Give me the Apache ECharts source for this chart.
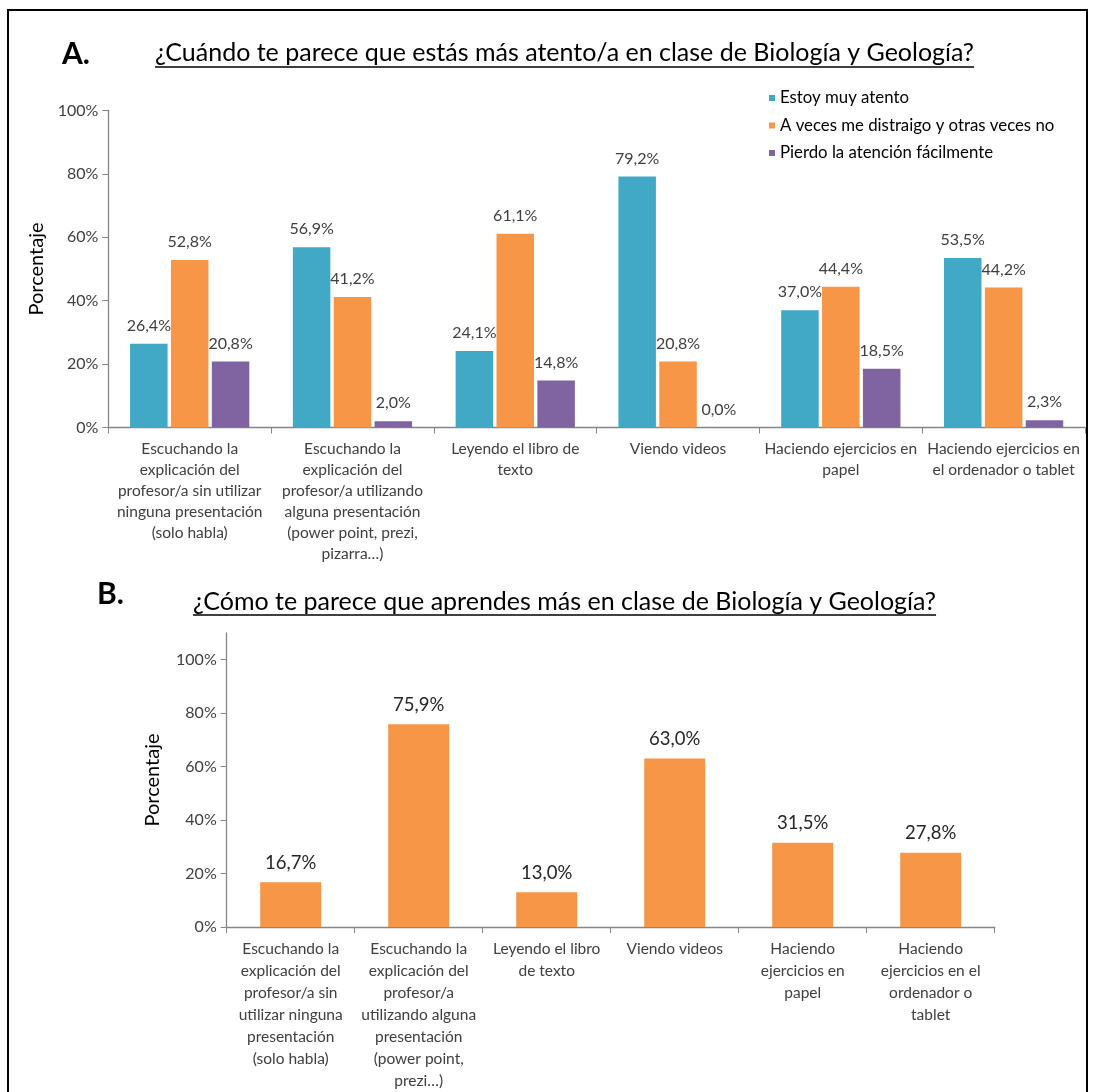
<!DOCTYPE html>
<html>
<head>
<meta charset="utf-8">
<script src="https://cdn.jsdelivr.net/npm/echarts@6/dist/echarts.min.js"></script>
<style>
html,body{margin:0;padding:0;background:#fff;}
#chart{width:1094px;height:1092px;}
</style>
</head>
<body>
<div id="chart"></div>
<script>
// ---------- data ----------
const titleA = '¿Cuándo te parece que estás más atento/a en clase de Biología y Geología?';
const titleB = '¿Cómo te parece que aprendes más en clase de Biología y Geología?';
const yAxisName = 'Porcentaje';
const categoriesA = [
  'Escuchando la\nexplicación del\nprofesor/a sin utilizar\nninguna presentación\n(solo habla)',
  'Escuchando la\nexplicación del\nprofesor/a utilizando\nalguna presentación\n(power point, prezi,\npizarra…)',
  'Leyendo el libro de\ntexto',
  'Viendo videos',
  'Haciendo ejercicios en\npapel',
  'Haciendo ejercicios en\nel ordenador o tablet'
];
const categoriesB = [
  'Escuchando la\nexplicación del\nprofesor/a sin\nutilizar ninguna\npresentación\n(solo habla)',
  'Escuchando la\nexplicación del\nprofesor/a\nutilizando alguna\npresentación\n(power point,\nprezi…)',
  'Leyendo el libro\nde texto',
  'Viendo videos',
  'Haciendo\nejercicios en\npapel',
  'Haciendo\nejercicios en el\nordenador o\ntablet'
];
const seriesNamesA = ['Estoy muy atento', 'A veces me distraigo y otras veces no', 'Pierdo la atención fácilmente'];
const muyAtento = [26.4, 56.9, 24.1, 79.2, 37.0, 53.5];
const aVeces = [52.8, 41.2, 61.1, 20.8, 44.4, 44.2];
const pierdo = [20.8, 2.0, 14.8, 0.0, 18.5, 2.3];
const aprendes = [16.7, 75.9, 13.0, 63.0, 31.5, 27.8];
const yTicks = [0, 20, 40, 60, 80, 100];

// ---------- styles ----------
const FONT = 'Lato, "Noto Sans", sans-serif';
const colors = ['#41A9C6', '#F79646', '#8064A2'];
const axisColor = '#868686';
const textColor = '#404040';

function pct(v) { return v.toFixed(1).replace('.', ',') + '%'; }
function measure(text, font) {
  const c = document.createElement('canvas').getContext('2d');
  c.font = font;
  return c.measureText(text).width;
}

const titleFontSize = 25;
const titleFont = titleFontSize + 'px ' + FONT;
const wA = measure(titleA, titleFont);
const wB = measure(titleB, titleFont);

const chart = echarts.init(document.getElementById('chart'), null, {renderer: 'canvas'});

function yAxisCommon(gridIndex, max, gap) {
  return {
    type: 'value', gridIndex: gridIndex, min: 0, max: max, interval: 20,
    name: yAxisName, nameLocation: 'middle', nameGap: gap, nameRotate: 90,
    nameTextStyle: {fontFamily: FONT, fontSize: 20, color: '#000'},
    axisLine: {show: true, lineStyle: {color: axisColor, width: 1.3}},
    axisTick: {show: true, length: 6, lineStyle: {color: axisColor}, customValues: yTicks},
    axisLabel: {fontFamily: FONT, fontSize: 16, color: textColor, margin: 10,
      customValues: yTicks, formatter: v => v + '%'},
    splitLine: {show: false}
  };
}
function xAxisCommon(gridIndex, cats, lh) {
  return {
    type: 'category', gridIndex: gridIndex, data: cats,
    axisLine: {show: true, lineStyle: {color: axisColor, width: 1.3}},
    axisTick: {show: true, length: 6, lineStyle: {color: axisColor}},
    axisLabel: {interval: 0, fontFamily: FONT, fontSize: 15.5, lineHeight: lh, color: textColor, margin: 11}
  };
}
function barA(i, data) {
  return {
    name: seriesNamesA[i], type: 'bar', xAxisIndex: 0, yAxisIndex: 0, data: data,
    barWidth: 37.5, barGap: '9%',
    itemStyle: {color: colors[i]},
    label: {show: true, position: 'top', distance: 10, fontFamily: FONT, fontSize: 16,
      color: textColor, formatter: p => pct(p.value)}
  };
}

const option = {
  animation: false,
  backgroundColor: '#fff',
  textStyle: {fontFamily: FONT},
  legend: {
    data: seriesNamesA, orient: 'vertical', left: 764, top: 84,
    icon: 'rect', itemWidth: 6, itemHeight: 6, itemGap: 9.5,
    textStyle: {fontFamily: FONT, fontSize: 16.8, lineHeight: 18, color: '#000'}
  },
  grid: [
    {left: 108.3, top: 110.5, width: 976.7, height: 317, containLabel: false},
    {left: 226.7, top: 633, width: 768, height: 297, containLabel: false}
  ],
  xAxis: [xAxisCommon(0, categoriesA, 21), xAxisCommon(1, categoriesB, 22)],
  yAxis: [yAxisCommon(0, 100, 59), yAxisCommon(1, 110, 64)],
  series: [
    barA(0, muyAtento), barA(1, aVeces), barA(2, pierdo),
    {
      name: 'Aprendes', type: 'bar', xAxisIndex: 1, yAxisIndex: 1, data: aprendes,
      barWidth: 61, itemStyle: {color: colors[1]},
      label: {show: true, position: 'top', distance: 10, fontFamily: FONT, fontSize: 18.5,
        color: '#262626', formatter: p => pct(p.value)}
    }
  ],
  graphic: [
    {type: 'rect', silent: true, shape: {x: 8, y: 10, width: 1079, height: 1110},
      style: {fill: 'none', stroke: '#000', lineWidth: 2}},
    {type: 'text', left: 62, top: 39, style: {text: 'A.', fontFamily: FONT, fontSize: 30, fontWeight: 'bold', fill: '#000'}},
    {type: 'text', left: 155, top: 40, style: {text: titleA, fontFamily: FONT, fontSize: titleFontSize, fill: '#000'}},
    {type: 'line', silent: true, shape: {x1: 155, y1: 67, x2: 155 + wA, y2: 67}, style: {stroke: '#000', lineWidth: 1.3}},
    {type: 'text', left: 97, top: 579, style: {text: 'B.', fontFamily: FONT, fontSize: 30, fontWeight: 'bold', fill: '#000'}},
    {type: 'text', left: 193, top: 589, style: {text: titleB, fontFamily: FONT, fontSize: titleFontSize, fill: '#000'}},
    {type: 'line', silent: true, shape: {x1: 193, y1: 615, x2: 193 + wB, y2: 615}, style: {stroke: '#000', lineWidth: 1.3}}
  ]
};
chart.setOption(option);
</script>
</body>
</html>
